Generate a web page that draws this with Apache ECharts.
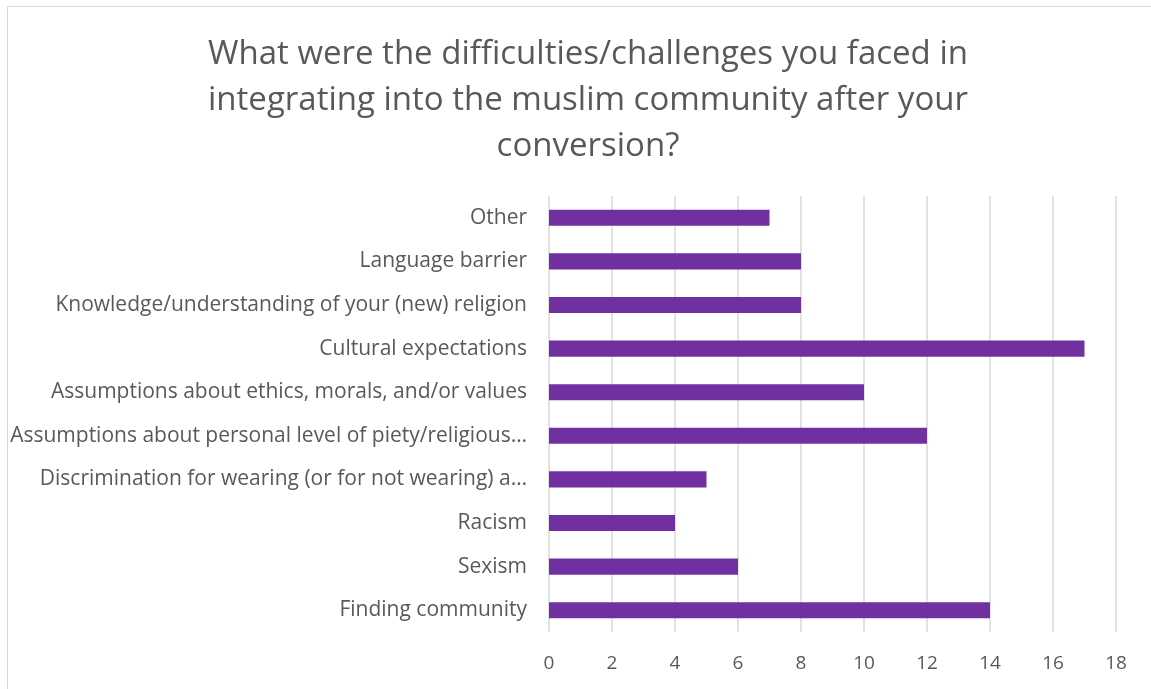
<!DOCTYPE html>
<html>
<head>
<meta charset="utf-8">
<script src="https://cdn.jsdelivr.net/npm/echarts@6/dist/echarts.min.js"></script>
<style>
  html, body { margin: 0; padding: 0; background: #fff; overflow: hidden; }
  #frame { position: absolute; left: 7px; top: 6px; width: 1160px; height: 700px; border: 1px solid #d9d9d9; box-sizing: border-box; }
  #chart { position: absolute; left: 0; top: 0; width: 1151px; height: 689px; }
</style>
</head>
<body>
<div id="frame"></div>
<div id="chart"></div>
<script>
// categories, bottom to top as on the axis
var categories = [
    'Finding community',
    'Sexism',
    'Racism',
    'Discrimination for wearing (or for not wearing) a…',
    'Assumptions about personal level of piety/religious…',
    'Assumptions about ethics, morals, and/or values',
    'Cultural expectations',
    'Knowledge/understanding of your (new) religion',
    'Language barrier',
    'Other'
];
var counts = [14, 6, 4, 5, 12, 10, 17, 8, 8, 7];
var titleText = 'What were the difficulties/challenges you faced in\nintegrating into the muslim community after your\nconversion?';

var fontFam = '"Open Sans", "Noto Sans", sans-serif';
var myChart = echarts.init(document.getElementById('chart'));
var option = {
    animation: false,
    title: {
        text: titleText,
        left: 583,
        top: 27,
        textAlign: 'center',
        textStyle: {
            color: '#595959',
            fontFamily: fontFam,
            fontWeight: 'normal',
            fontSize: 33,
            lineHeight: 46
        }
    },
    grid: {
        left: 549,
        right: 35,
        top: 196,
        bottom: 57,
        containLabel: false
    },
    xAxis: {
        type: 'value',
        min: 0,
        max: 18,
        interval: 2,
        axisLine: { show: false },
        axisTick: { show: false },
        splitLine: { lineStyle: { color: '#d9d9d9', width: 1.5 } },
        axisLabel: {
            color: '#595959',
            fontFamily: fontFam,
            fontSize: 19,
            margin: 22
        }
    },
    yAxis: {
        type: 'category',
        data: categories,
        axisLine: { show: false },
        axisTick: { show: false },
        axisLabel: {
            color: '#595959',
            fontFamily: fontFam,
            fontSize: 21,
            margin: 22
        }
    },
    series: [
        {
            type: 'bar',
            data: counts,
            barWidth: '37%',
            itemStyle: { color: '#7030a0' }
        }
    ]
};
myChart.setOption(option);
</script>
</body>
</html>
